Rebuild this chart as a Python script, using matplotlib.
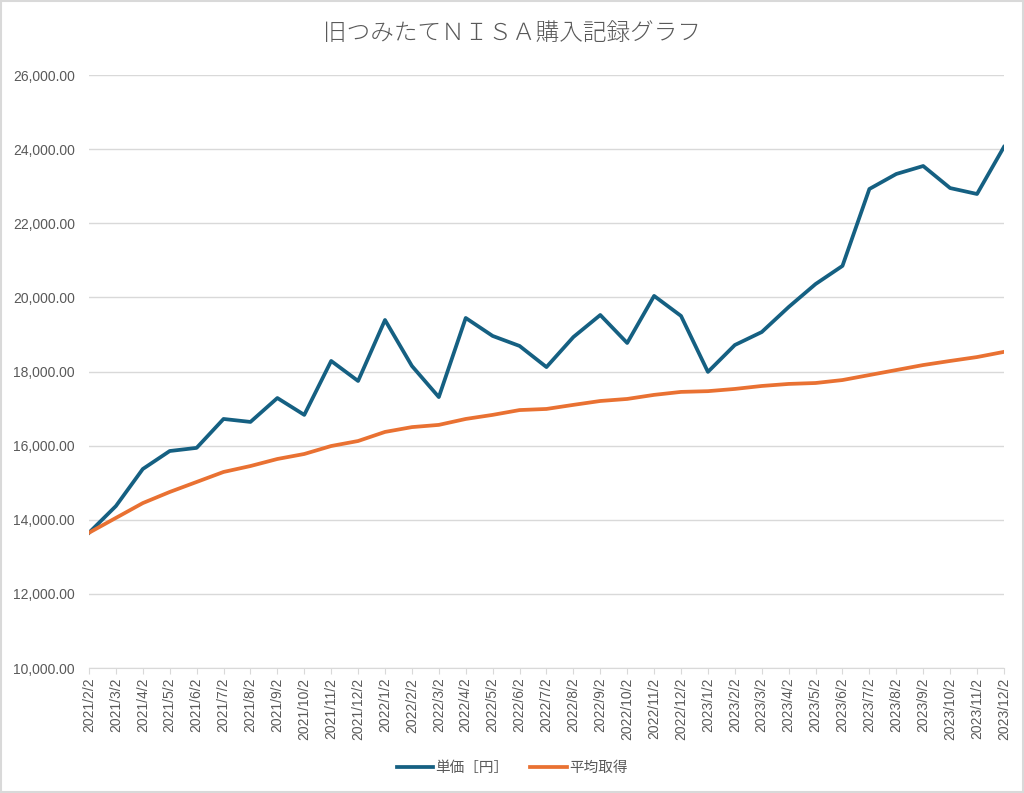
import numpy as np
import matplotlib
matplotlib.use("Agg")
import matplotlib.pyplot as plt
from matplotlib.ticker import FuncFormatter

plt.rcParams['font.family'] = ['Noto Sans CJK JP', 'DejaVu Sans']

dates = ["2021/2/2", "2021/3/2", "2021/4/2", "2021/5/2", "2021/6/2", "2021/7/2",
         "2021/8/2", "2021/9/2", "2021/10/2", "2021/11/2", "2021/12/2",
         "2022/1/2", "2022/2/2", "2022/3/2", "2022/4/2", "2022/5/2", "2022/6/2",
         "2022/7/2", "2022/8/2", "2022/9/2", "2022/10/2", "2022/11/2", "2022/12/2",
         "2023/1/2", "2023/2/2", "2023/3/2", "2023/4/2", "2023/5/2", "2023/6/2",
         "2023/7/2", "2023/8/2", "2023/9/2", "2023/10/2", "2023/11/2", "2023/12/2"]

unit_price = [13650, 14370, 15370, 15855, 15940, 16720, 16640, 17285, 16830, 18285,
              17745, 19390, 18150, 17310, 19445, 18960, 18690, 18120, 18930, 19525,
              18770, 20040, 19500, 17990, 18715, 19065, 19740, 20360, 20850, 22925,
              23330, 23545, 22950, 22790, 24060]

avg_cost = [13650, 14050, 14450, 14750, 15020, 15290, 15450, 15640, 15775, 15990,
            16125, 16370, 16500, 16560, 16720, 16830, 16960, 16990, 17100, 17205,
            17260, 17370, 17450, 17470, 17530, 17610, 17665, 17690, 17770, 17905,
            18040, 18175, 18285, 18390, 18530]

grey = "#595959"

fig = plt.figure(figsize=(10.24, 7.93), dpi=100)
fig.patch.set_facecolor("white")
ax = fig.add_axes([0.0869, 0.1576, 0.8935, 0.7478])

x = np.arange(len(dates))
ax.plot(x, unit_price, color="#156082", lw=2.7, label="単価［円］", solid_joinstyle="round")
ax.plot(x, avg_cost, color="#E97132", lw=2.7, label="平均取得", solid_joinstyle="round")

ax.set_xlim(0, len(dates) - 1)
ax.set_ylim(10000, 26000)
ax.set_yticks(np.arange(10000, 26001, 2000))
ax.yaxis.set_major_formatter(FuncFormatter(lambda v, p: f"{v:,.2f}"))
ax.set_xticks(x)
ax.set_xticklabels(dates, rotation=90, fontsize=10, color=grey, family="Liberation Sans")
for lab in ax.get_yticklabels():
    lab.set_family("Liberation Sans")
ax.tick_params(axis="y", length=0, labelsize=10, labelcolor=grey, pad=10)
ax.tick_params(axis="x", length=4, color="#d9d9d9", pad=3)
for lab in ax.get_yticklabels():
    lab.set_family("Liberation Sans")

ax.grid(axis="y", color="#d9d9d9", lw=1)
ax.set_axisbelow(True)
for s in ["top", "right", "left"]:
    ax.spines[s].set_visible(False)
ax.spines["bottom"].set_color("#d9d9d9")

fig.text(0.5, 0.958, "旧つみたてＮＩＳＡ購入記録グラフ", ha="center", va="center",
         fontsize=17, color=grey, fontweight="light")

fig.legend(loc="center", bbox_to_anchor=(0.5, 0.032), ncol=2, frameon=False,
           fontsize=10.5, labelcolor=grey, handlelength=2.5, handletextpad=0.15,
           columnspacing=1.5)

# outer chart border
fig.add_artist(plt.Rectangle((0.001, 0.001), 0.998, 0.998, transform=fig.transFigure,
                             fill=False, edgecolor="#d9d9d9", lw=1.5))

fig.savefig("out.png", dpi=100)
